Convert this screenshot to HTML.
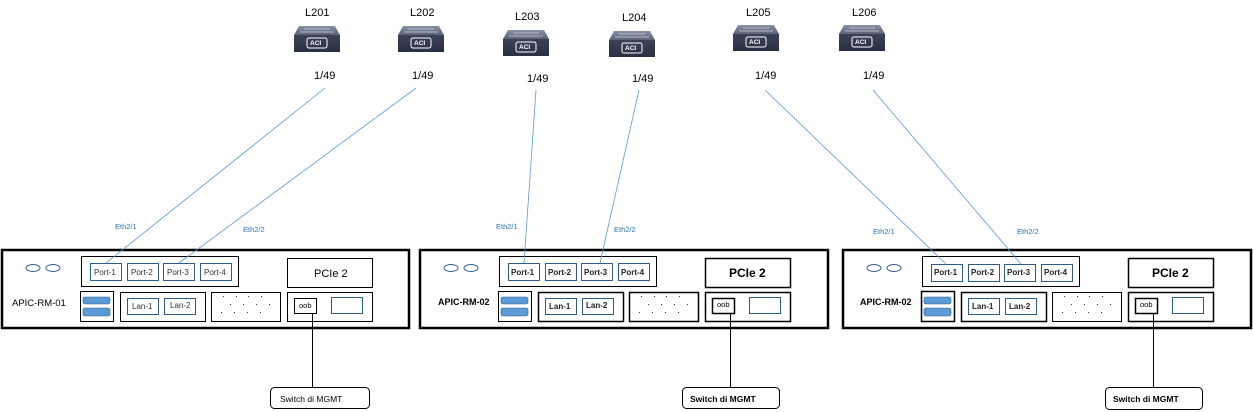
<!DOCTYPE html>
<html><head><meta charset="utf-8"><style>
html,body{margin:0;padding:0;background:#fff;}
svg{display:block;font-family:"Liberation Sans",Arial,sans-serif;}
</style></head><body>
<svg width="1253" height="412" viewBox="0 0 1253 412" xmlns="http://www.w3.org/2000/svg">
<defs>
<linearGradient id="tg" x1="0" y1="0" x2="0" y2="1"><stop offset="0" stop-color="#8a92a6"/><stop offset="1" stop-color="#5a6278"/></linearGradient>
<linearGradient id="fg" x1="0" y1="0" x2="0" y2="1"><stop offset="0" stop-color="#3c4258"/><stop offset="1" stop-color="#2a2f42"/></linearGradient>
<g id="sw">
<polygon points="5,0 41,0 46,9 0,9" fill="url(#tg)"/>
<line x1="10" y1="3" x2="36" y2="3" stroke="#c8ccd8" stroke-width="0.8"/>
<line x1="6" y1="6" x2="40" y2="6" stroke="#c8ccd8" stroke-width="0.8"/>
<rect x="0" y="9" width="46" height="17" fill="url(#fg)"/>
<rect x="13" y="12" width="20" height="10" rx="2" fill="none" stroke="#fff" stroke-width="1"/>
</g>
</defs>

<g font-size="11" fill="#000">
<text x="305" y="16">L201</text><text x="410" y="16">L202</text><text x="515" y="20">L203</text><text x="622" y="21">L204</text><text x="746" y="16">L205</text><text x="852" y="16">L206</text>
<text x="314" y="79">1/49</text><text x="412" y="79">1/49</text><text x="527" y="82">1/49</text><text x="632" y="82">1/49</text><text x="755" y="79">1/49</text><text x="863" y="79">1/49</text>
</g>
<use href="#sw" x="294" y="26"/><use href="#sw" x="398" y="26"/><use href="#sw" x="503" y="30"/><use href="#sw" x="609" y="31"/><use href="#sw" x="733" y="25"/><use href="#sw" x="839" y="25"/>
<g font-size="6.5" font-weight="bold" fill="#fff">
<text x="310" y="45">ACI</text><text x="414" y="45">ACI</text><text x="519" y="49">ACI</text><text x="625" y="50">ACI</text><text x="749" y="44">ACI</text><text x="855" y="44">ACI</text>
</g>

<g font-size="7.5" fill="#2e75b6">
<text x="115" y="229">Eth2/1</text><text x="243" y="232">Eth2/2</text>
<text x="496" y="229">Eth2/1</text><text x="614" y="232">Eth2/2</text>
<text x="873" y="234">Eth2/1</text><text x="1017" y="234">Eth2/2</text>
</g>

<!-- Server 1 -->
<g transform="translate(0,0)">
<rect x="2" y="250" width="407" height="78" fill="#fff" stroke="#000" stroke-width="2.5"/>
<ellipse cx="33" cy="268" rx="7" ry="3.5" fill="none" stroke="#2e5c8a" stroke-width="1"/>
<ellipse cx="53" cy="268" rx="7" ry="3.5" fill="none" stroke="#2e5c8a" stroke-width="1"/>
<rect x="81.5" y="256.5" width="157" height="30" fill="none" stroke="#000"/>
<g fill="none" stroke="#2e5c8a" stroke-width="1"><rect x="90.5" y="263.5" width="31" height="17"/><rect x="127.5" y="263.5" width="31" height="17"/><rect x="163.5" y="263.5" width="31" height="17"/><rect x="200.5" y="263.5" width="31" height="17"/></g>
<g font-size="8" fill="#333"><text x="94" y="275">Port-1</text><text x="131" y="275">Port-2</text><text x="167" y="275">Port-3</text><text x="204" y="275">Port-4</text></g>
<rect x="287.5" y="258.5" width="85" height="29" fill="none" stroke="#000"/>
<text x="314" y="277" font-size="11">PCIe 2</text>
<text x="12" y="306" font-size="9.5">APIC-RM-01</text>
<rect x="80.5" y="291.5" width="33" height="30" fill="none" stroke="#000"/>
<rect x="83" y="297" width="27" height="7" rx="2" fill="#5b9bd5" stroke="#2e5c8a" stroke-width="0.6"/>
<rect x="83" y="308" width="27" height="8" rx="2" fill="#5b9bd5" stroke="#2e5c8a" stroke-width="0.6"/>
<rect x="120.5" y="292.5" width="85" height="29" fill="none" stroke="#000"/>
<rect x="127.5" y="298.5" width="31" height="16" fill="none" stroke="#2e5c8a"/><rect x="164.5" y="298.5" width="31" height="16" fill="none" stroke="#2e5c8a"/>
<g font-size="8" fill="#333"><text x="132" y="309">Lan-1</text><text x="170" y="308">Lan-2</text></g>
<rect x="211.5" y="292.5" width="69" height="29" fill="none" stroke="#000"/>
<g fill="#333"><rect x="223" y="296" width="1" height="1"/><rect x="236" y="296" width="1" height="1"/><rect x="248" y="296" width="1" height="1"/><rect x="261" y="296" width="1" height="1"/><rect x="230" y="304" width="1" height="1"/><rect x="243" y="304" width="1" height="1"/><rect x="256" y="304" width="1" height="1"/><rect x="269" y="304" width="1" height="1"/><rect x="221" y="312" width="1" height="1"/><rect x="234" y="312" width="1" height="1"/><rect x="247" y="312" width="1" height="1"/><rect x="260" y="312" width="1" height="1"/></g>
<rect x="287.5" y="292.5" width="85" height="29" fill="none" stroke="#000"/>
<rect x="294.5" y="298.5" width="22" height="15" fill="none" stroke="#000"/>
<text x="299" y="308" font-size="7.5">oob</text>
<rect x="331.5" y="297.5" width="31" height="16" fill="none" stroke="#2e5c8a"/>
<line x1="312.5" y1="313" x2="312.5" y2="387" stroke="#000"/>
<rect x="270.5" y="387.5" width="99" height="21" rx="4" fill="#fff" stroke="#000"/>
<text x="280" y="402" font-size="8.5">Switch di MGMT</text>
</g>

<!-- Server 2 -->
<g transform="translate(418,0)">
<rect x="2" y="250" width="408" height="78" fill="#fff" stroke="#000" stroke-width="2.5"/>
<ellipse cx="33" cy="268" rx="7" ry="3.5" fill="none" stroke="#2e5c8a" stroke-width="1"/>
<ellipse cx="53" cy="268" rx="7" ry="3.5" fill="none" stroke="#2e5c8a" stroke-width="1"/>
<rect x="81.5" y="256.5" width="157" height="30" fill="none" stroke="#000"/>
<g fill="none" stroke="#2e5c8a" stroke-width="1"><rect x="90.5" y="263.5" width="31" height="17"/><rect x="127.5" y="263.5" width="31" height="17"/><rect x="163.5" y="263.5" width="31" height="17"/><rect x="200.5" y="263.5" width="31" height="17"/></g>
<g font-size="8" font-weight="bold" fill="#222"><text x="93" y="275">Port-1</text><text x="130" y="275">Port-2</text><text x="166" y="275">Port-3</text><text x="203" y="275">Port-4</text></g>
<rect x="287.5" y="258.5" width="85" height="29" fill="none" stroke="#000" stroke-width="1.5"/>
<text x="311" y="277" font-size="12" font-weight="bold">PCIe 2</text>
<text x="20" y="305" font-size="9" font-weight="bold">APIC-RM-02</text>
<rect x="80.5" y="291.5" width="33" height="30" fill="none" stroke="#000"/>
<rect x="83" y="297" width="27" height="7" rx="2" fill="#5b9bd5" stroke="#2e5c8a" stroke-width="0.6"/>
<rect x="83" y="308" width="27" height="8" rx="2" fill="#5b9bd5" stroke="#2e5c8a" stroke-width="0.6"/>
<rect x="120.5" y="292.5" width="85" height="29" fill="none" stroke="#000" stroke-width="1.5"/>
<rect x="127.5" y="298.5" width="31" height="16" fill="none" stroke="#2e5c8a"/><rect x="164.5" y="298.5" width="31" height="16" fill="none" stroke="#2e5c8a"/>
<g font-size="8" font-weight="bold" fill="#222"><text x="131" y="309">Lan-1</text><text x="168" y="308">Lan-2</text></g>
<rect x="211.5" y="292.5" width="69" height="29" fill="none" stroke="#000" stroke-width="1.5"/>
<g fill="#333"><rect x="223" y="296" width="1" height="1"/><rect x="236" y="296" width="1" height="1"/><rect x="248" y="296" width="1" height="1"/><rect x="261" y="296" width="1" height="1"/><rect x="230" y="304" width="1" height="1"/><rect x="243" y="304" width="1" height="1"/><rect x="256" y="304" width="1" height="1"/><rect x="269" y="304" width="1" height="1"/><rect x="221" y="312" width="1" height="1"/><rect x="234" y="312" width="1" height="1"/><rect x="247" y="312" width="1" height="1"/><rect x="260" y="312" width="1" height="1"/></g>
<rect x="287.5" y="292.5" width="85" height="29" fill="none" stroke="#000" stroke-width="1.5"/>
<rect x="294.5" y="298.5" width="22" height="15" fill="none" stroke="#000" stroke-width="1.5"/>
<text x="299" y="307" font-size="7.5">oob</text>
<rect x="331.5" y="297.5" width="31" height="16" fill="none" stroke="#2e5c8a"/>
<line x1="312.5" y1="313" x2="312.5" y2="387" stroke="#000"/>
<rect x="264.5" y="387.5" width="97" height="21" rx="4" fill="#fff" stroke="#000"/>
<text x="272" y="402" font-size="8.5" font-weight="bold">Switch di MGMT</text>
</g>

<!-- Server 3 -->
<g transform="translate(841,0)">
<rect x="2" y="250" width="408" height="78" fill="#fff" stroke="#000" stroke-width="2.5"/>
<ellipse cx="33" cy="268" rx="7" ry="3.5" fill="none" stroke="#2e5c8a" stroke-width="1"/>
<ellipse cx="53" cy="268" rx="7" ry="3.5" fill="none" stroke="#2e5c8a" stroke-width="1"/>
<rect x="81.5" y="256.5" width="157" height="30" fill="none" stroke="#000"/>
<g fill="none" stroke="#2e5c8a" stroke-width="1"><rect x="90.5" y="264.5" width="31" height="17"/><rect x="127.5" y="264.5" width="31" height="17"/><rect x="163.5" y="264.5" width="31" height="17"/><rect x="200.5" y="264.5" width="31" height="17"/></g>
<g font-size="8" font-weight="bold" fill="#222"><text x="93" y="275">Port-1</text><text x="130" y="275">Port-2</text><text x="166" y="275">Port-3</text><text x="203" y="275">Port-4</text></g>
<rect x="287.5" y="258.5" width="85" height="29" fill="none" stroke="#000" stroke-width="1.5"/>
<text x="311" y="277" font-size="12" font-weight="bold">PCIe 2</text>
<text x="19" y="305" font-size="9" font-weight="bold">APIC-RM-02</text>
<rect x="80.5" y="291.5" width="33" height="30" fill="none" stroke="#000" stroke-width="1.5"/>
<rect x="83" y="297" width="27" height="7" rx="2" fill="#5b9bd5" stroke="#2e5c8a" stroke-width="0.6"/>
<rect x="83" y="308" width="27" height="8" rx="2" fill="#5b9bd5" stroke="#2e5c8a" stroke-width="0.6"/>
<rect x="120.5" y="292.5" width="85" height="29" fill="none" stroke="#000" stroke-width="1.5"/>
<rect x="127.5" y="298.5" width="31" height="16" fill="none" stroke="#2e5c8a"/><rect x="164.5" y="298.5" width="31" height="16" fill="none" stroke="#2e5c8a"/>
<g font-size="8" font-weight="bold" fill="#222"><text x="131" y="309">Lan-1</text><text x="168" y="309">Lan-2</text></g>
<rect x="211.5" y="292.5" width="69" height="29" fill="none" stroke="#000"/>
<g fill="#333"><rect x="223" y="296" width="1" height="1"/><rect x="236" y="296" width="1" height="1"/><rect x="248" y="296" width="1" height="1"/><rect x="261" y="296" width="1" height="1"/><rect x="230" y="304" width="1" height="1"/><rect x="243" y="304" width="1" height="1"/><rect x="256" y="304" width="1" height="1"/><rect x="269" y="304" width="1" height="1"/><rect x="221" y="312" width="1" height="1"/><rect x="234" y="312" width="1" height="1"/><rect x="247" y="312" width="1" height="1"/><rect x="260" y="312" width="1" height="1"/></g>
<rect x="287.5" y="292.5" width="85" height="29" fill="none" stroke="#000" stroke-width="1.5"/>
<rect x="294.5" y="298.5" width="22" height="15" fill="none" stroke="#000" stroke-width="1.5"/>
<text x="299" y="307" font-size="7.5">oob</text>
<rect x="331.5" y="297.5" width="31" height="16" fill="none" stroke="#2e5c8a"/>
<line x1="312.5" y1="313" x2="312.5" y2="387" stroke="#000"/>
<rect x="264.5" y="387.5" width="97" height="22" rx="4" fill="#fff" stroke="#000"/>
<text x="272" y="402" font-size="8.5" font-weight="bold">Switch di MGMT</text>
</g>

<!-- uplinks (drawn over the server frames, ending at port tops) -->
<g stroke="#5b9bd5" stroke-width="0.8">
<line x1="325" y1="88" x2="106" y2="263"/>
<line x1="416" y1="88" x2="179" y2="263"/>
<line x1="536" y1="90" x2="524" y2="263"/>
<line x1="639" y1="90" x2="600" y2="263"/>
<line x1="765" y1="90" x2="946" y2="264"/>
<line x1="873" y1="90" x2="1021" y2="264"/>
</g>
</svg>
</body></html>
